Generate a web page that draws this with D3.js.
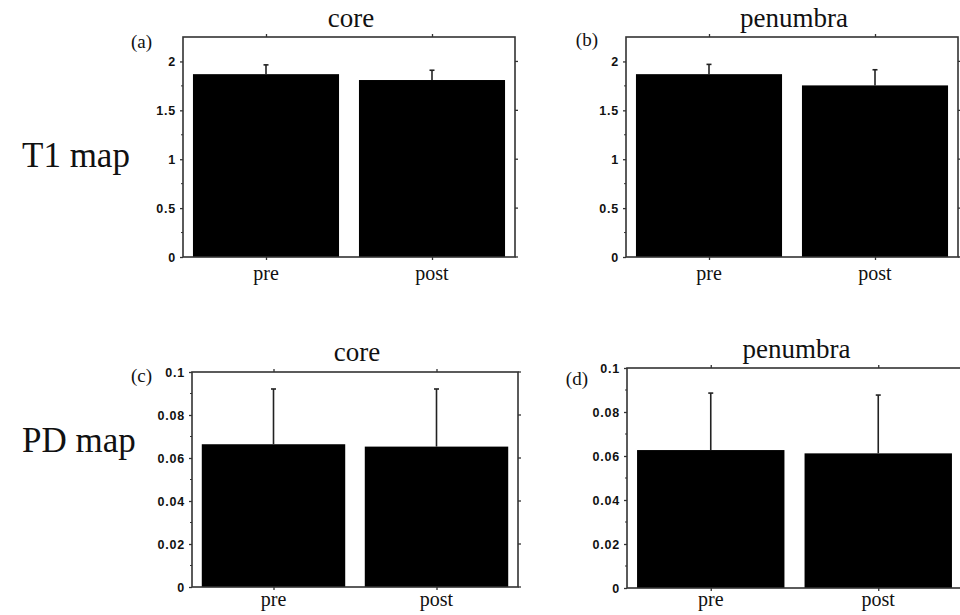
<!DOCTYPE html>
<html>
<head>
<meta charset="utf-8">
<script src="https://cdn.jsdelivr.net/npm/d3@7"></script>
<style>
  body { margin: 0; background: #fff; }
  text { fill: #111; }
</style>
</head>
<body>
<div id="chart"></div>
<script>
// values
var groups = ["pre", "post"];

var t1Core = [1.87, 1.81];
var t1CoreErr = [0.095, 0.10];
var t1Pen = [1.87, 1.755];
var t1PenErr = [0.10, 0.16];

var pdCore = [0.0664, 0.0653];
var pdCoreErr = [0.0257, 0.0268];
var pdPen = [0.0627, 0.0612];
var pdPenErr = [0.0259, 0.0265];

var t1Ticks = [0, 0.5, 1, 1.5, 2];
var pdTicks = [0, 0.02, 0.04, 0.06, 0.08, 0.1];

var titles = ["core", "penumbra", "core", "penumbra"];
var tags = ["(a)", "(b)", "(c)", "(d)"];
var rowLabels = ["T1 map", "PD map"];

var width = 960, height = 615;

var svg = d3.select("#chart")
  .append("svg")
  .attr("width", width)
  .attr("height", height);

// panel boxes (pixels)
var panels = [
  {vals: t1Core, errs: t1CoreErr, ticks: t1Ticks, ymax: 2.25, l: 183, r: 515, t: 37, b: 257, title: titles[0], tag: tags[0], tagX: 152, tagY: 48, titleY: 27, labY: 280},
  {vals: t1Pen, errs: t1PenErr, ticks: t1Ticks, ymax: 2.25, l: 626, r: 958, t: 37, b: 257, title: titles[1], tag: tags[1], tagX: 598, tagY: 46, titleY: 27, labY: 280},
  {vals: pdCore, errs: pdCoreErr, ticks: pdTicks, ymax: 0.1, l: 192, r: 518, t: 372, b: 587, title: titles[2], tag: tags[2], tagX: 152, tagY: 382, titleY: 361, labY: 606},
  {vals: pdPen, errs: pdPenErr, ticks: pdTicks, ymax: 0.1, l: 627, r: 962, t: 368, b: 588, title: titles[3], tag: tags[3], tagX: 588, tagY: 385, titleY: 358, labY: 606}
];

var axisCol = "#333";
var fmt = d3.format("~g");

panels.forEach(function(p) {
  var g = svg.append("g");
  var x = d3.scaleLinear().domain([0.5, 2.5]).range([p.l, p.r]);
  var y = d3.scaleLinear().domain([0, p.ymax]).range([p.b, p.t]);
  var bw = x(1.44) - x(1);

  // bars
  g.selectAll(".bar")
    .data(p.vals)
    .enter().append("rect")
    .attr("class", "bar")
    .attr("x", function(d, i) { return x(i + 1) - bw; })
    .attr("width", bw * 2)
    .attr("y", function(d) { return y(d); })
    .attr("height", function(d) { return y(0) - y(d); })
    .attr("fill", "#000");

  // error bars (upper half only)
  g.selectAll(".err")
    .data(p.vals)
    .enter().append("line")
    .attr("x1", function(d, i) { return x(i + 1); })
    .attr("x2", function(d, i) { return x(i + 1); })
    .attr("y1", function(d) { return y(d); })
    .attr("y2", function(d, i) { return y(d + p.errs[i]); })
    .attr("stroke", "#222")
    .attr("stroke-width", 1.6);
  g.selectAll(".cap")
    .data(p.vals)
    .enter().append("line")
    .attr("x1", function(d, i) { return x(i + 1) - 2.5; })
    .attr("x2", function(d, i) { return x(i + 1) + 2.5; })
    .attr("y1", function(d, i) { return y(d + p.errs[i]); })
    .attr("y2", function(d, i) { return y(d + p.errs[i]); })
    .attr("stroke", "#222")
    .attr("stroke-width", 1.6);

  // left axis
  var yAxis = d3.axisLeft(y).tickValues(p.ticks).tickSize(3).tickPadding(4).tickFormat(fmt);
  var ya = g.append("g").attr("transform", "translate(" + p.l + ",0)").call(yAxis);
  ya.select(".domain").remove();
  ya.selectAll("line").attr("stroke", axisCol).attr("stroke-width", 1.3);
  ya.selectAll("text")
    .attr("font-family", "'Liberation Sans', Arial, sans-serif")
    .attr("font-weight", "bold")
    .attr("font-size", 12.5)
    .attr("letter-spacing", 0.8)
    .attr("fill", "#222");

  // minor ticks halfway between the major ones
  var step = p.ticks[1] - p.ticks[0];
  var minor = p.ticks.slice(0, -1).map(function(v) { return v + step / 2; });
  g.selectAll(".minor")
    .data(minor)
    .enter().append("line")
    .attr("x1", p.l - 2).attr("x2", p.l)
    .attr("y1", function(d) { return y(d); })
    .attr("y2", function(d) { return y(d); })
    .attr("stroke", axisCol);

  // right ticks
  g.selectAll(".rtick")
    .data(p.ticks)
    .enter().append("line")
    .attr("x1", p.r).attr("x2", p.r + 3)
    .attr("y1", function(d) { return y(d); })
    .attr("y2", function(d) { return y(d); })
    .attr("stroke", axisCol)
    .attr("stroke-width", 1.3);

  // bottom + top category ticks
  var xa = g.append("g").attr("transform", "translate(0," + p.b + ")")
    .call(d3.axisBottom(x).tickValues([1, 2]).tickSize(3).tickFormat(""));
  xa.select(".domain").remove();
  xa.selectAll("line").attr("stroke", axisCol).attr("stroke-width", 1.3);

  var xt = g.append("g").attr("transform", "translate(0," + p.t + ")")
    .call(d3.axisTop(x).tickValues([1, 2]).tickSize(3).tickFormat(""));
  xt.select(".domain").remove();
  xt.selectAll("line").attr("stroke", axisCol).attr("stroke-width", 1.3);

  g.selectAll(".xlab")
    .data(groups)
    .enter().append("text")
    .attr("x", function(d, i) { return x(i + 1); })
    .attr("y", p.labY)
    .attr("text-anchor", "middle")
    .attr("font-family", "'Liberation Serif', 'Times New Roman', serif")
    .attr("font-size", 20)
    .text(function(d) { return d; });

  // frame
  g.append("rect")
    .attr("x", p.l).attr("y", p.t)
    .attr("width", p.r - p.l).attr("height", p.b - p.t)
    .attr("fill", "none")
    .attr("stroke", axisCol)
    .attr("stroke-width", 1.6);

  // title
  g.append("text")
    .attr("x", (p.l + p.r) / 2 + 2)
    .attr("y", p.titleY)
    .attr("text-anchor", "middle")
    .attr("font-family", "'Liberation Serif', 'Times New Roman', serif")
    .attr("font-size", 27)
    .text(p.title);

  // panel tag
  g.append("text")
    .attr("x", p.tagX)
    .attr("y", p.tagY)
    .attr("text-anchor", "end")
    .attr("font-family", "'Liberation Serif', 'Times New Roman', serif")
    .attr("font-size", 19)
    .text(p.tag);
});

// row labels
svg.selectAll(".row")
  .data(rowLabels)
  .enter().append("text")
  .attr("x", 22)
  .attr("y", function(d, i) { return i == 0 ? 167 : 452; })
  .attr("font-family", "'Liberation Serif', 'Times New Roman', serif")
  .attr("font-size", 35)
  .text(function(d) { return d; });
</script>
</body>
</html>
